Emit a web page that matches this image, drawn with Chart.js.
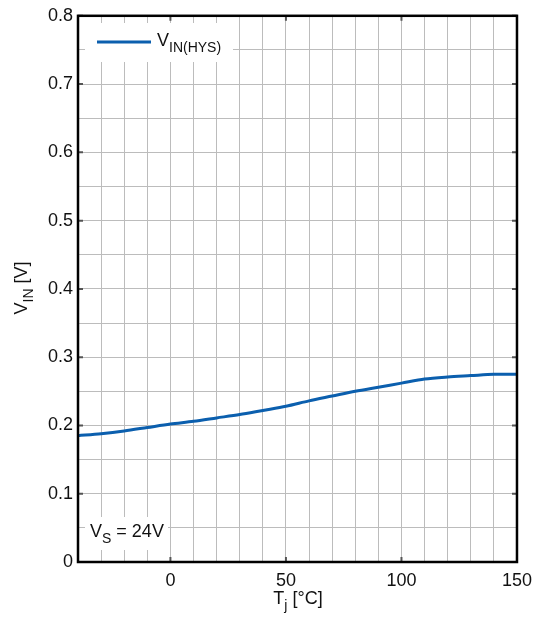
<!DOCTYPE html>
<html lang="en">
<head>
<meta charset="UTF-8">
<title>VIN(HYS) vs Tj</title>
<script src="https://cdn.jsdelivr.net/npm/chart.js"></script>
<style>
    html, body { margin: 0; padding: 0; background: #fff; }
</style>
</head>
<body>
<canvas id="chartHys" width="540" height="619"></canvas>
<script>
    // dados
    var temperatura = [-40, -30, -20, -10, 0, 10, 20, 30, 40, 50, 60, 70, 80, 90, 100, 110, 120, 130, 140, 150];
    var vinHys = [0.185, 0.188, 0.192, 0.197, 0.202, 0.206, 0.211, 0.216, 0.222, 0.228, 0.236, 0.243, 0.250, 0.256, 0.262, 0.268, 0.271, 0.273, 0.275, 0.275];
    var ticksX = [0, 50, 100, 150];
    var ticksY = [0, 0.1, 0.2, 0.3, 0.4, 0.5, 0.6, 0.7, 0.8];

    var corLinha = '#0b5fae';
    var fonte = "'Liberation Sans', Arial, sans-serif";
    Chart.defaults.font.family = fonte;

    function textoSub(ctx, partes, x, y, centro) {
        var total = 0;
        partes.forEach(function (p) {
            ctx.font = (p.sub ? '14px ' : '18px ') + fonte;
            total += ctx.measureText(p.t).width;
        });
        var px = centro ? x - total / 2 : x;
        partes.forEach(function (p) {
            ctx.font = (p.sub ? '14px ' : '18px ') + fonte;
            ctx.fillText(p.t, px, p.sub ? y + 6 : y);
            px += ctx.measureText(p.t).width;
        });
    }

    var extras = {
        id: 'extras',
        beforeDatasetsDraw: function (chart) {
            var ctx = chart.ctx;
            var sx = chart.scales.x, sy = chart.scales.y;
            var a = chart.chartArea;
            ctx.save();
            // marcas internas
            ctx.strokeStyle = '#555';
            ctx.lineWidth = 2;
            ticksY.forEach(function (v) {
                var y = sy.getPixelForValue(v);
                ctx.beginPath();
                ctx.moveTo(a.left, y); ctx.lineTo(a.left + 5, y);
                ctx.moveTo(a.right - 5, y); ctx.lineTo(a.right, y);
                ctx.stroke();
            });
            ticksX.forEach(function (v) {
                var x = sx.getPixelForValue(v);
                ctx.beginPath();
                ctx.moveTo(x, a.bottom); ctx.lineTo(x, a.bottom - 5);
                ctx.moveTo(x, a.top); ctx.lineTo(x, a.top + 5);
                ctx.stroke();
            });
            // legenda
            ctx.fillStyle = '#fff';
            ctx.fillRect(85, 23, 148, 39);
            ctx.strokeStyle = corLinha;
            ctx.lineWidth = 3;
            ctx.beginPath();
            ctx.moveTo(97, 42); ctx.lineTo(151, 42);
            ctx.stroke();
            ctx.fillStyle = '#111';
            ctx.textBaseline = 'alphabetic';
            textoSub(ctx, [{ t: 'V' }, { t: 'IN(HYS)', sub: true }], 157, 46, false);
            // anotacao VS
            ctx.fillStyle = '#fff';
            ctx.fillRect(85, 517, 83, 33);
            ctx.fillStyle = '#111';
            textoSub(ctx, [{ t: 'V' }, { t: 'S', sub: true }, { t: ' = 24V' }], 90, 537, false);
            ctx.restore();
        },
        afterDraw: function (chart) {
            var ctx = chart.ctx;
            var a = chart.chartArea;
            ctx.save();
            ctx.strokeStyle = '#000';
            ctx.lineWidth = 2.5;
            ctx.strokeRect(a.left, a.top, a.right - a.left, a.bottom - a.top);
            ctx.fillStyle = '#111';
            textoSub(ctx, [{ t: 'T' }, { t: 'j', sub: true }, { t: ' [°C]' }], 298, 604, true);
            ctx.translate(27, 288);
            ctx.rotate(-Math.PI / 2);
            textoSub(ctx, [{ t: 'V' }, { t: 'IN', sub: true }, { t: ' [V]' }], 0, 0, true);
            ctx.restore();
        }
    };

    var ctx = document.getElementById('chartHys');

    new Chart(ctx, {
        type: 'line',
        data: {
            labels: temperatura,
            datasets: [{
                label: 'VIN(HYS)',
                data: temperatura.map(function (t, i) { return { x: t, y: vinHys[i] }; }),
                borderColor: corLinha,
                borderWidth: 3,
                pointRadius: 0,
                tension: 0.3,
                fill: false
            }]
        },
        options: {
            responsive: false,
            animation: false,
            layout: { padding: { top: 14, right: 22, left: 0, bottom: 0 } },
            plugins: {
                legend: { display: false },
                tooltip: { enabled: false }
            },
            scales: {
                x: {
                    type: 'linear',
                    min: -40,
                    max: 150,
                    afterFit: function (s) { s.height = 57; },
                    border: { display: false },
                    grid: { color: '#bcbcbc', lineWidth: 1, drawTicks: false },
                    ticks: {
                        stepSize: 10,
                        autoSkip: false,
                        maxRotation: 0,
                        padding: 8,
                        color: '#111',
                        font: { size: 18 },
                        callback: function (v) { return ticksX.indexOf(v) >= 0 ? String(v) : ''; }
                    }
                },
                y: {
                    min: 0,
                    max: 0.8,
                    afterFit: function (s) { s.width = 78; },
                    border: { display: false },
                    grid: { color: '#bcbcbc', lineWidth: 1, drawTicks: false },
                    ticks: {
                        stepSize: 0.05,
                        autoSkip: false,
                        padding: 5,
                        color: '#111',
                        font: { size: 18 },
                        callback: function (v) {
                            var c = Math.round(v * 100);
                            return c % 10 === 0 ? String(c / 100) : '';
                        }
                    }
                }
            }
        },
        plugins: [extras]
    });
</script>
</body>
</html>
